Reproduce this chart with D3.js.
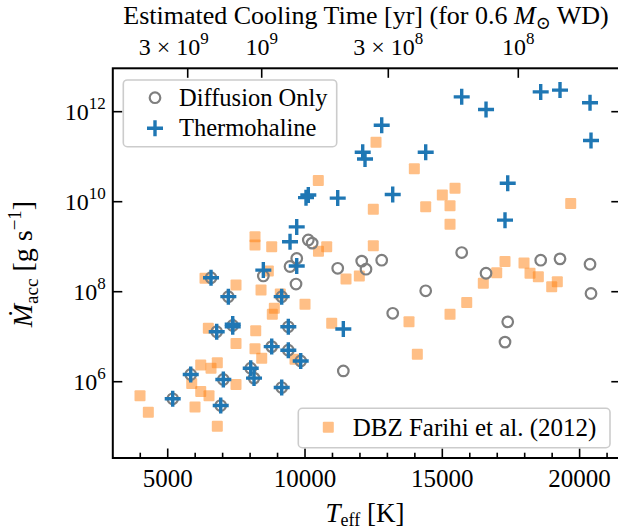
<!DOCTYPE html>
<html>
<head>
<meta charset="utf-8">
<script src="https://cdn.jsdelivr.net/npm/d3@7"></script>
<style>
body { margin: 0; background: #fff; }
text { font-family: "Liberation Serif", "DejaVu Serif", serif; fill: #000; }
</style>
</head>
<body>
<div id="chart"></div>
<script>
// Farihi et al. (2012) DBZ sample
const teffFarihi = [3991, 4294, 5874, 5994, 6202, 6202, 6358, 6479, 6504, 6577, 6806, 6806,
    7487, 7487, 7487, 8179, 8179, 8179, 8205, 8398, 8423, 8664, 8787, 8809, 8882, 9100,
    9636, 10000, 10484, 10490, 10790, 10972, 11493, 11978, 12487, 12487, 12586, 13787,
    13981, 14090, 14395, 15000, 15281, 15281, 15281, 15463, 15889, 16493, 16981, 17283,
    17975, 18194, 18497, 18984, 19188, 19676];
const logMdotFarihi = [5.69, 5.32, 5.96, 5.44, 6.37, 5.78, 8.30, 7.19, 5.69, 6.30, 6.42, 5.01,
    8.15, 6.85, 5.94, 9.22, 9.04, 6.73, 7.13, 8.04, 6.52, 8.46, 9.00, 7.50, 7.63, 7.95,
    6.50, 7.72, 10.47, 8.90, 9.00, 7.30, 8.28, 8.35, 9.83, 9.02, 11.32, 7.33,
    10.73, 6.61, 9.89, 10.15, 9.91, 9.50, 7.50, 10.30, 7.76, 8.19, 8.42, 8.67,
    8.64, 8.41, 8.33, 8.11, 8.22, 9.96];

// Diffusion only
const teffDiffusion = [5182, 5838, 6577, 6784, 6930, 7025, 7208, 7367, 8023, 8143, 8482, 8787,
    9151, 9151, 9392, 9392, 9843, 9698, 9454, 9672, 10120, 10260, 11191, 11395, 12065,
    12221, 12793, 13194, 14395, 15706, 16592, 17382, 17283, 18583, 19286, 20379, 20415];
const logMdotDiffusion = [5.62, 6.16, 8.31, 7.11, 5.47, 6.05, 7.89, 7.25, 6.30, 6.08, 8.35, 6.78,
    7.89, 5.87, 7.22, 6.70, 6.46, 8.74, 8.56, 8.17, 9.15, 9.08, 8.52, 6.24, 8.68,
    8.50, 8.70, 7.52, 8.02, 8.87, 8.41, 7.33, 6.88, 8.70, 8.73, 8.61, 7.96];

// Thermohaline
const teffThermo = [5182, 5838, 6577, 6784, 6930, 7025, 7208, 7367, 7367, 8023, 8143, 8482,
    8787, 9151, 9151, 9392, 9392, 9843, 9698, 9454, 9698, 10120, 10036, 11191, 11395,
    12101, 12185, 12793, 13194, 14395, 15706, 16592, 17382, 17283, 18583, 19286, 20379, 20415];
const logMdotThermo = [5.62, 6.16, 8.31, 7.11, 5.47, 6.05, 7.89, 7.28, 7.22, 6.30, 6.08, 8.48,
    6.78, 7.89, 5.87, 7.22, 6.70, 6.46, 8.57, 9.11, 9.44, 10.15, 10.09, 10.08, 7.17,
    11.10, 10.95, 11.70, 10.16, 11.10, 12.33, 12.05, 10.41, 9.59, 12.44, 12.48, 12.20, 11.36];

// axis ticks
const xTicks = [5000, 10000, 15000, 20000];
const yTickExps = [6, 8, 10, 12];
const coolTeff = [5728, 8423, 13033, 17767];
const coolLabels = [["3 × 10", "9"], ["10", "9"], ["3 × 10", "8"], ["10", "8"]];

const W = 618, H = 531;
const margin = { top: 68.3, left: 112.8, width: 508, height: 389.7 };

const svg = d3.select("#chart").append("svg")
    .attr("width", W).attr("height", H)
    .attr("font-family", "'Liberation Serif', serif");

const x = d3.scaleLinear().domain([3000, 21500])
    .range([margin.left, margin.left + margin.width]);
const y = d3.scaleLog().domain([Math.pow(10, 4.305), Math.pow(10, 12.964)])
    .range([margin.top + margin.height, margin.top]);

const bottom = margin.top + margin.height;
const right = margin.left + margin.width;

// ticks (inward)
const tickG = svg.append("g").attr("stroke", "#000").attr("stroke-width", 1.6);
tickG.selectAll(".xmaj").data(xTicks).join("line")
    .attr("x1", d => x(d)).attr("x2", d => x(d))
    .attr("y1", bottom).attr("y2", bottom - 9.5);
tickG.selectAll(".xmin").data(d3.range(4000, 21001, 1000).filter(d => d % 5000 !== 0)).join("line")
    .attr("x1", d => x(d)).attr("x2", d => x(d))
    .attr("y1", bottom).attr("y2", bottom - 5.3);
tickG.selectAll(".yl").data(yTickExps).join("line")
    .attr("x1", margin.left).attr("x2", margin.left + 9.5)
    .attr("y1", d => y(Math.pow(10, d))).attr("y2", d => y(Math.pow(10, d)));
tickG.selectAll(".yr").data(yTickExps).join("line")
    .attr("x1", right).attr("x2", right - 9.5)
    .attr("y1", d => y(Math.pow(10, d))).attr("y2", d => y(Math.pow(10, d)));
tickG.selectAll(".top").data(coolTeff).join("line")
    .attr("x1", d => x(d)).attr("x2", d => x(d))
    .attr("y1", margin.top).attr("y2", margin.top + 9.5);

// markers
const farihi = teffFarihi.map((t, i) => ({ t, m: Math.pow(10, logMdotFarihi[i]) }));
const diffusion = teffDiffusion.map((t, i) => ({ t, m: Math.pow(10, logMdotDiffusion[i]) }));
const thermo = teffThermo.map((t, i) => ({ t, m: Math.pow(10, logMdotThermo[i]) }));

const sq = 11;
svg.append("g").selectAll("rect").data(farihi).join("rect")
    .attr("x", d => x(d.t) - sq / 2).attr("y", d => y(d.m) - sq / 2)
    .attr("width", sq).attr("height", sq).attr("rx", 1)
    .attr("fill", "#ff7f0e").attr("fill-opacity", 0.5);

svg.append("g").selectAll("circle").data(diffusion).join("circle")
    .attr("cx", d => x(d.t)).attr("cy", d => y(d.m)).attr("r", 5.3)
    .attr("fill", "none").attr("stroke", "#7f7f7f").attr("stroke-width", 2.2);

const plus = "M-8,0H8M0,-8V8";
svg.append("g").selectAll("path").data(thermo).join("path")
    .attr("d", plus)
    .attr("transform", d => `translate(${x(d.t)},${y(d.m)})`)
    .attr("stroke", "#1f77b4").attr("stroke-width", 3.4).attr("fill", "none");

// frame
svg.append("rect")
    .attr("x", margin.left).attr("y", margin.top)
    .attr("width", margin.width).attr("height", margin.height)
    .attr("fill", "none").attr("stroke", "#000").attr("stroke-width", 2);

// bottom tick labels
svg.selectAll(".xl").data(xTicks).join("text")
    .attr("x", d => x(d)).attr("y", bottom + 29)
    .attr("text-anchor", "middle").attr("font-size", 25)
    .text(d => d);

// y tick labels
const yl = svg.selectAll(".ylab").data(yTickExps).join("text")
    .attr("x", margin.left - 7).attr("y", d => y(Math.pow(10, d)) + 8)
    .attr("text-anchor", "end").attr("font-size", 24);
yl.append("tspan").text("10");
yl.append("tspan").attr("dy", -11).attr("font-size", 17).text(d => d);

// top (cooling time) labels
const tl = svg.selectAll(".tlab").data(coolTeff).join("text")
    .attr("x", (d, i) => x(d) + (i === 0 ? -14 : 0)).attr("y", 55)
    .attr("text-anchor", "middle").attr("font-size", 24);
tl.append("tspan").text((d, i) => coolLabels[i][0]);
tl.append("tspan").attr("dy", -11).attr("font-size", 17).text((d, i) => coolLabels[i][1]);

// top title
const tt = svg.append("text").attr("x", 366).attr("y", 24)
    .attr("text-anchor", "middle").attr("font-size", 26);
tt.append("tspan").text("Estimated Cooling Time [yr] (for 0.6 ");
tt.append("tspan").attr("font-style", "italic").text("M");
tt.append("tspan").attr("font-size", 18).attr("dy", 5).text("⊙");
tt.append("tspan").attr("dy", -5).text(" WD)");

// x label
const xl = svg.append("text").attr("x", 365).attr("y", 522)
    .attr("text-anchor", "middle").attr("font-size", 27);
xl.append("tspan").attr("font-style", "italic").text("T");
xl.append("tspan").attr("font-size", 18).attr("dy", 4).text("eff");
xl.append("tspan").attr("dy", -4).text(" [K]");

// y label
const ylab = svg.append("text")
    .attr("transform", "translate(32,264) rotate(-90)")
    .attr("text-anchor", "middle").attr("font-size", 28);
ylab.append("tspan").attr("font-style", "italic").text("Ṁ");
ylab.append("tspan").attr("font-size", 19).attr("dy", 6).text("acc");
ylab.append("tspan").attr("dy", -6).text(" [g s");
ylab.append("tspan").attr("font-size", 19).attr("dy", -11).text("−1");
ylab.append("tspan").attr("dy", 11).text("]");

// legend upper left
const lg1 = svg.append("g");
lg1.append("rect").attr("x", 123.3).attr("y", 80).attr("width", 213.4).attr("height", 66.7)
    .attr("rx", 4).attr("fill", "#fff").attr("fill-opacity", 0.8)
    .attr("stroke", "#cccccc").attr("stroke-width", 1.6);
lg1.append("circle").attr("cx", 155).attr("cy", 97.7).attr("r", 5.3)
    .attr("fill", "none").attr("stroke", "#7f7f7f").attr("stroke-width", 2.2);
lg1.append("path").attr("d", plus).attr("transform", "translate(155,128.3)")
    .attr("stroke", "#1f77b4").attr("stroke-width", 3.4);
lg1.append("text").attr("x", 179).attr("y", 105.5).attr("font-size", 24.5).text("Diffusion Only");
lg1.append("text").attr("x", 179).attr("y", 136).attr("font-size", 24.5).text("Thermohaline");

// legend lower right
const lg2 = svg.append("g");
lg2.append("rect").attr("x", 298.3).attr("y", 408.3).attr("width", 311.7).attr("height", 39.4)
    .attr("rx", 4).attr("fill", "#fff").attr("fill-opacity", 0.8)
    .attr("stroke", "#cccccc").attr("stroke-width", 1.6);
lg2.append("rect").attr("x", 328.3 - sq / 2).attr("y", 427.3 - sq / 2).attr("width", sq).attr("height", sq)
    .attr("rx", 1).attr("fill", "#ff7f0e").attr("fill-opacity", 0.5);
lg2.append("text").attr("x", 352.7).attr("y", 435.5).attr("font-size", 25).text("DBZ Farihi et al. (2012)");
</script>
</body>
</html>
